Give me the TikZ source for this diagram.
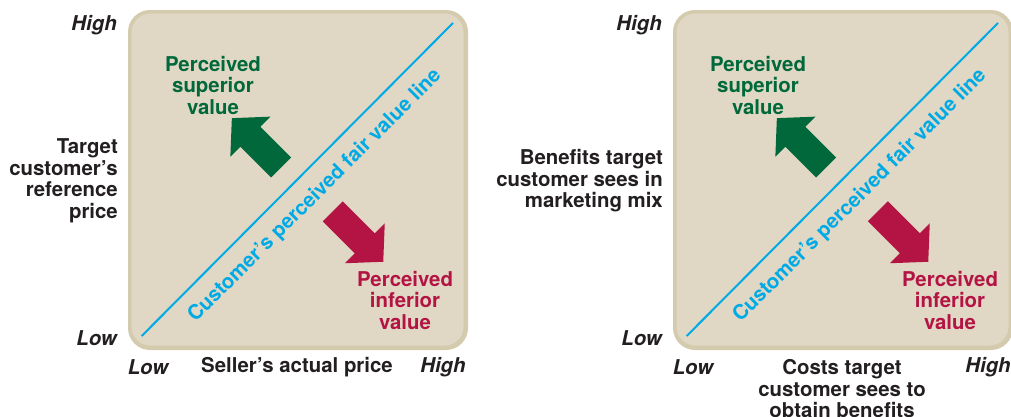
\documentclass[tikz,border=0pt]{standalone}
\usepackage{fontspec}
\setmainfont{TeX Gyre Heros}
\definecolor{boxedge}{RGB}{212,203,175}
\definecolor{boxfill}{RGB}{224,216,196}
\definecolor{supgreen}{RGB}{0,104,58}
\definecolor{infred}{RGB}{180,20,68}
\definecolor{fairblue}{RGB}{0,170,230}
\definecolor{inkdark}{RGB}{35,31,32}
\tikzset{
  lbl/.style={font=\bfseries\fontsize{20.4}{21.5}\selectfont, inner sep=0pt, text=inkdark},
  axlbl/.style={font=\bfseries\itshape\fontsize{20.4}{21.5}\selectfont, inner sep=0pt, text=inkdark},
  pics/valuemap/.style={code={
    \fill[boxedge, rounded corners=22pt] (128,10) rectangle (468,350);
    \fill[boxfill, rounded corners=19pt] (131.5,13.5) rectangle (463.5,345.5);
    \coordinate (-lo) at (141.7,336);
    \coordinate (-hi) at (453,23);
    \draw[fairblue, line width=2pt] (-lo) -- (-hi);
    \node[lbl, text=fairblue, rotate=45] (-fair) at (315,196) {Customer’s perceived fair value line};
    \fill[supgreen] (231.85,118.15) -- (270.35,116.65) -- (260.35,126.65) -- (291.1,157.4)
      -- (271.1,177.4) -- (240.35,146.65) -- (230.35,156.65) -- cycle;
    \fill[infred] (383.25,261.75) -- (384.75,223.25) -- (374.75,233.25) -- (342.75,201.25)
      -- (322.75,221.25) -- (354.75,253.25) -- (344.75,263.25) -- cycle;
    \node[lbl, text=supgreen, align=center] (-sup) at (213,85) {Perceived\\superior\\value};
    \node[lbl, text=infred, align=center] (-inf) at (405,300) {Perceived\\inferior\\value};
  }}
}
\begin{document}
\begin{tikzpicture}[x=1pt, y=-1pt]
\useasboundingbox (0,0) rectangle (1011,416);
\pic (L) at (0,0) {valuemap};
\pic (R) at (545,0) {valuemap};
% left axes
\node[axlbl, anchor=east] (Lhigh) at (117,25) {High};
\node[axlbl, anchor=east] (Llow) at (117,338) {Low};
\node[lbl, anchor=east, align=right] (Ly) at (118,181) {Target\\customer’s\\reference\\price};
\node[axlbl] (Lxlow) at (148,367) {Low};
\node[lbl] (Lx) at (297,367) {Seller’s actual price};
\node[axlbl] (Lxhigh) at (443,367) {High};
% right axes
\node[axlbl, anchor=east] (Rhigh) at (662,25) {High};
\node[axlbl, anchor=east] (Rlow) at (662,338) {Low};
\node[lbl, anchor=east, align=right] (Ry) at (663,181) {Benefits target\\customer sees in\\marketing mix};
\node[axlbl] (Rxlow) at (693,367) {Low};
\node[lbl, align=center] (Rx) at (842,389) {Costs target\\customer sees to\\obtain benefits};
\node[axlbl] (Rxhigh) at (988,367) {High};
\end{tikzpicture}
\end{document}
